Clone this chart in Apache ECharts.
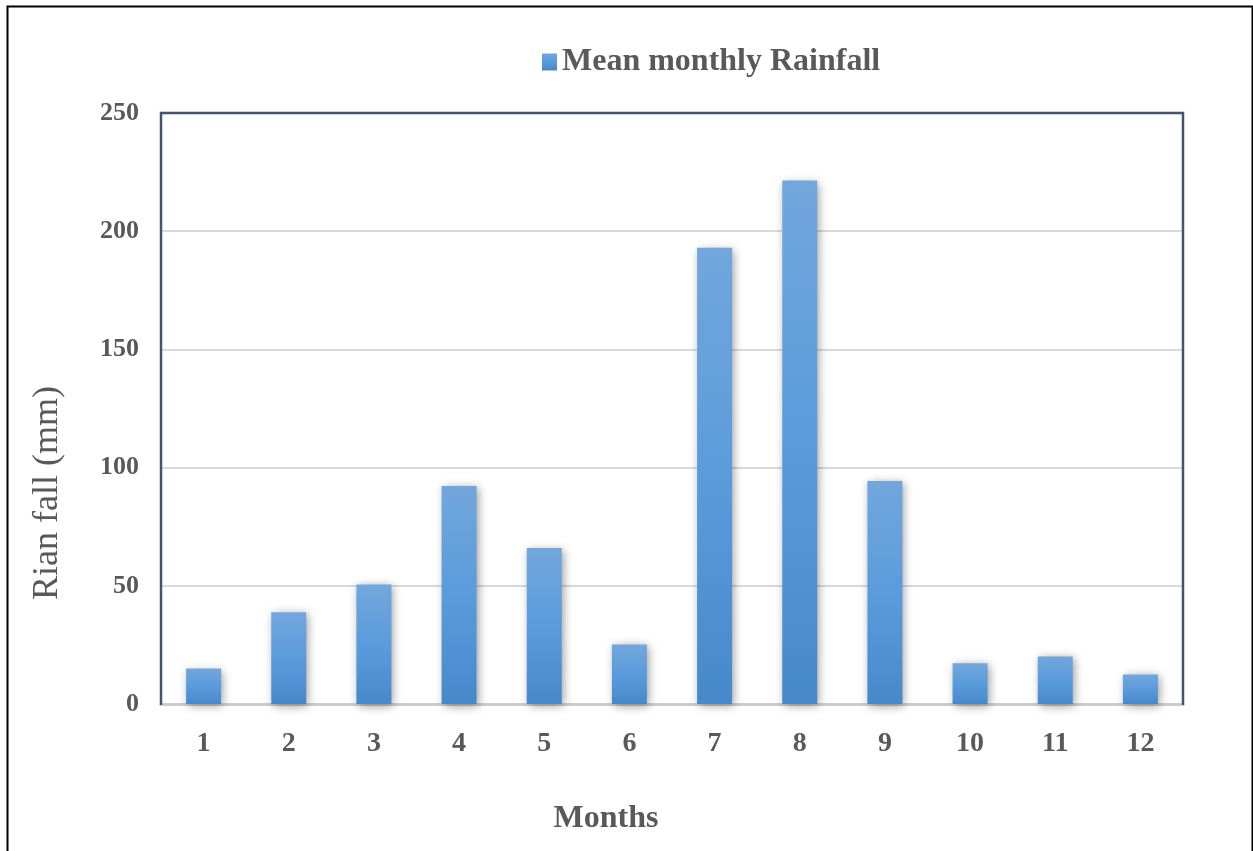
<!DOCTYPE html>
<html><head><meta charset="utf-8">
<script src="https://cdn.jsdelivr.net/npm/echarts@6/dist/echarts.min.js"></script>
<style>html,body{margin:0;padding:0;background:#fff}#c{width:1253px;height:851px}</style>
</head><body><div id="c"></div>
<script>
const months = ['1','2','3','4','5','6','7','8','9','10','11','12'];
const rainfall = [15.0, 38.8, 50.6, 92.2, 66.0, 25.2, 193.0, 221.4, 94.3, 17.2, 20.1, 12.5];
const seriesName = 'Mean monthly Rainfall';
const xTitle = 'Months';
const yTitle = 'Rian fall (mm)';
const yTicks = {min: 0, max: 250, interval: 50};

const G = {left: 161, top: 113, right: 1183, bottom: 704};
const chart = echarts.init(document.getElementById('c'), null, {renderer: 'canvas'});
const grad = new echarts.graphic.LinearGradient(0, 0, 0, 1, [
  {offset: 0, color: '#72a7dc'},
  {offset: 0.5, color: '#5a9bdc'},
  {offset: 1, color: '#4689cb'}
]);
const serif = 'Liberation Serif';
chart.setOption({
  animation: false,
  backgroundColor: '#fff',
  graphic: [
    {type: 'rect', left: 5, top: 4, shape: {width: 1245, height: 900},
     style: {fill: 'none', stroke: '#000', lineWidth: 2}, z: 100},
    {type: 'polyline', z: 50,
     shape: {points: [[G.left, G.bottom + 1], [G.left, G.top], [G.right, G.top], [G.right, G.bottom + 1]]},
     style: {fill: 'none', stroke: '#44546a', lineWidth: 2.5}},
    {type: 'text', x: 48, y: 493, rotation: Math.PI / 2, z: 60,
     style: {text: yTitle, font: '36px "Liberation Serif"', fill: '#595959', align: 'center', verticalAlign: 'middle'}},
    {type: 'text', x: 606, y: 819, z: 60,
     style: {text: xTitle, font: 'bold 32px "Liberation Serif"', fill: '#595959', align: 'center', verticalAlign: 'middle'}}
  ],
  legend: {
    data: [seriesName],
    top: 41, left: 537,
    itemWidth: 15, itemHeight: 17, itemGap: 8,
    itemStyle: {borderWidth: 0},
    icon: 'rect',
    textStyle: {fontFamily: serif, fontWeight: 'bold', fontSize: 32, color: '#595959'}
  },
  grid: {left: G.left, right: 1253 - G.right, top: G.top, bottom: 851 - G.bottom},
  xAxis: {
    type: 'category', data: months,
    axisLine: {show: true, lineStyle: {color: '#cccccc', width: 3}},
    axisTick: {show: false},
    axisLabel: {margin: 26, fontFamily: serif, fontWeight: 'bold', fontSize: 28, color: '#595959'}
  },
  yAxis: {
    type: 'value', min: yTicks.min, max: yTicks.max, interval: yTicks.interval,
    axisLine: {show: false},
    axisTick: {show: false},
    splitLine: {lineStyle: {color: '#d9d9d9', width: 2}},
    axisLabel: {margin: 22, fontFamily: serif, fontWeight: 'bold', fontSize: 26, color: '#595959'}
  },
  series: [{
    name: seriesName, type: 'bar', data: rainfall, barWidth: 35,
    itemStyle: {color: grad, shadowBlur: 9, shadowColor: 'rgba(0,0,0,0.4)', shadowOffsetX: 2, shadowOffsetY: 2}
  }]
});
</script></body></html>
